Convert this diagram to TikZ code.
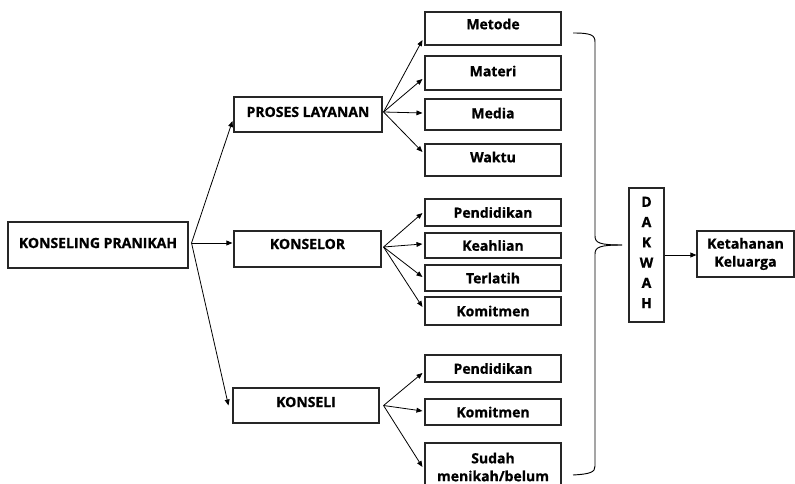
\documentclass[tikz,border=0pt]{standalone}
\usepackage{fontspec}
\setmainfont{Open Sans}[BoldFeatures={FakeBold=0.9}]
\usetikzlibrary{arrows.meta}
\newcommand\upby[2]{\raisebox{#1}[\height][\depth]{#2}}
\begin{document}
\begin{tikzpicture}[x=0.75pt,y=-0.75pt,
  box/.style={draw=black!85,line width=0.8pt,inner sep=0pt,align=center,
    font=\fontsize{10.5pt}{13pt}\selectfont\bfseries},
  rbox/.style={box,minimum width=102pt},
  arr/.style={line width=0.6pt,-{Triangle[length=4.5pt,width=3.6pt]}}]
\useasboundingbox (0,0) rectangle (795,484);

\node[box,minimum width=135pt,minimum height=34.5pt] (kp) at (98,245) {\upby{1.5pt}{KONSELING PRANIKAH}};
\node[box,minimum width=111pt,minimum height=26.25pt] (pl) at (308,114.5) {\upby{1.9pt}{PROSES LAYANAN}};
\node[box,minimum width=110.25pt,minimum height=27pt] (ks) at (307.5,249) {\upby{3.75pt}{KONSELOR}};
\node[box,minimum width=109.5pt,minimum height=26.25pt] (ki) at (306,405.5) {\upby{2.6pt}{KONSELI}};

\node[rbox,minimum height=24.75pt] (metode) at (493,28.5) {\upby{3.4pt}{Metode}};
\node[rbox,minimum height=25.5pt] (materi) at (493,73) {\upby{1.5pt}{Materi}};
\node[rbox,minimum height=23.25pt] (media) at (493,114.5) {\upby{1.1pt}{Media}};
\node[rbox,minimum height=24pt] (waktu) at (493,160) {\upby{2.25pt}{Waktu}};

\node[rbox,minimum height=20.25pt] (pend1) at (493,212.5) {Pendidikan};
\node[rbox,minimum height=18.75pt] (keahlian) at (493,245.5) {Keahlian};
\node[rbox,minimum height=19.5pt] (terlatih) at (493,278) {Terlatih};
\node[rbox,minimum height=21pt] (kom1) at (493,311) {Komitmen};

\node[rbox,minimum height=20.25pt] (pend2) at (493,368.5) {Pendidikan};
\node[rbox,minimum height=19.5pt] (kom2) at (493,412) {Komitmen};
\node[rbox,minimum height=39pt] (sudah) at (493,469) {\upby{1.5pt}{Sudah}\\[0.4pt]\upby{1.5pt}{menikah/belum}};

\node[box,minimum width=26.25pt,minimum height=100.5pt,
  font=\fontsize{10.5pt}{15.2pt}\selectfont\bfseries] (dak) at (646.5,255) {\upby{1.9pt}{D}\\\upby{1.9pt}{A}\\\upby{1.9pt}{K}\\\upby{1.9pt}{W}\\\upby{1.9pt}{A}\\\upby{1.9pt}{H}};
\node[box,minimum width=72.75pt,minimum height=34.5pt,
  font=\fontsize{10.5pt}{13.5pt}\selectfont\bfseries] (ket) at (745.5,254) {Ketahanan\\Keluarga};

% fan points
\coordinate (fkp) at ([shift={(3,-2)}]kp.east);
\coordinate (fpl) at ([shift={(1,-2.5)}]pl.east);
\coordinate (fks) at ([shift={(2,-2)}]ks.east);
\coordinate (fki) at ([shift={(4,0)}]ki.east);

\draw[arr] (fkp) -- ([shift={(-1,6.5)}]pl.west);
\draw[arr] (fkp) -- ([shift={(-1,-6)}]ks.west);
\draw[arr] (fkp) -- ([shift={(-4,0)}]ki.west);

\draw[arr] (fpl) -- ([shift={(-2,11.5)}]metode.west);
\draw[arr] (fpl) -- ([shift={(-2,6)}]materi.west);
\draw[arr] (fpl) -- ([shift={(-2,-1.5)}]media.west);
\draw[arr] (fpl) -- ([shift={(-2,-8)}]waktu.west);

\draw[arr] (fks) -- ([shift={(-2,0.5)}]pend1.west);
\draw[arr] (fks) -- ([shift={(-2,-1.5)}]keahlian.west);
\draw[arr] (fks) -- ([shift={(-2,-1)}]terlatih.west);
\draw[arr] (fks) -- ([shift={(-2,-4)}]kom1.west);

\draw[arr] (fki) -- ([shift={(-2,4.5)}]pend2.west);
\draw[arr] (fki) -- ([shift={(-2,-1)}]kom2.west);
\draw[arr] (fki) -- ([shift={(-2,-2)}]sudah.west);

% brace
\coordinate (btop) at (573,33);
\coordinate (btip) at (622,245);
\coordinate (bbot) at (573,475);
\draw[line width=0.7pt] (btop) .. controls (591,33) and (595,35) .. (595,42) -- (595,236)
  .. controls (595,243) and (600,245) .. (btip);
\draw[line width=0.7pt] (btip) .. controls (600,245) and (595,247) .. (595,254) -- (595,466)
  .. controls (595,472) and (591,474) .. (bbot);

\draw[arr] (dak.east) -- (dak.east -| ket.west);
\end{tikzpicture}
\end{document}
